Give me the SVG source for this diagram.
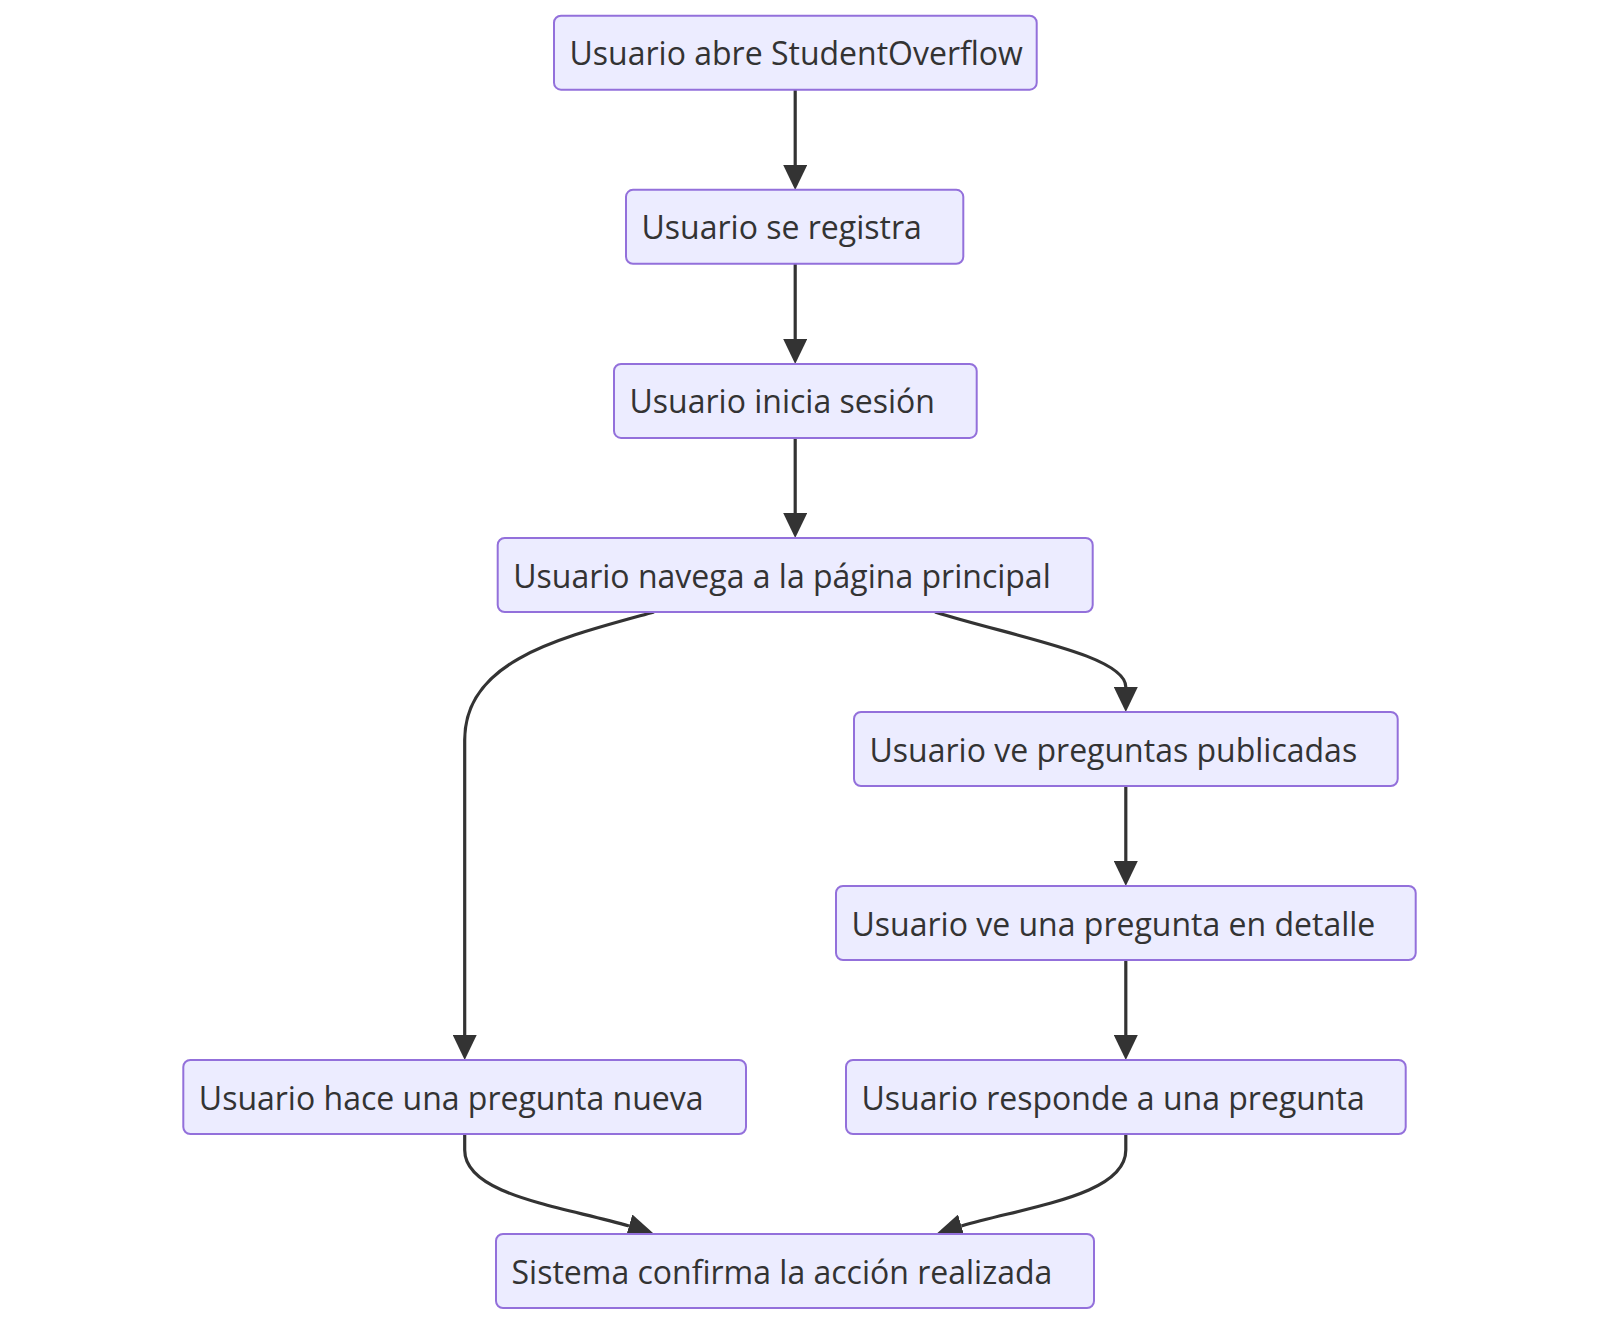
<svg xmlns="http://www.w3.org/2000/svg" width="1600" height="1324" viewBox="0 0 1600 1324">
<style>
.node rect{fill:#ECECFF;stroke:#9370DB;stroke-width:2;}
.node text{font-family:"Open Sans","Noto Sans","DejaVu Sans",sans-serif;font-size:32px;fill:#333333;}
.edge{fill:none;stroke:#333333;stroke-width:3.2;}
</style>
<defs>
<marker id="arrow" markerUnits="userSpaceOnUse" viewBox="0 0 25 24" refX="0" refY="12" markerWidth="25" markerHeight="24" orient="auto">
<path d="M0,0 L25,12 L0,24 z" fill="#333333"/>
</marker>
</defs>
<rect width="1600" height="1324" fill="#ffffff"/>
<g id="connectors">
<path class="edge" d="M795.2,90 L795.2,165" marker-end="url(#arrow)"/>
<path class="edge" d="M795.2,264 L795.2,339" marker-end="url(#arrow)"/>
<path class="edge" d="M795.2,438 L795.2,513" marker-end="url(#arrow)"/>
<path class="edge" d="M654,612 C560,638 464.7,660 464.7,740 L464.7,1035" marker-end="url(#arrow)"/>
<path class="edge" d="M935,612 C1010,636 1125.8,655 1125.8,687" marker-end="url(#arrow)"/>
<path class="edge" d="M1125.8,786 L1125.8,861" marker-end="url(#arrow)"/>
<path class="edge" d="M1125.8,960 L1125.8,1035" marker-end="url(#arrow)"/>
<path class="edge" d="M464.7,1134 L464.7,1150 C464.7,1195 560,1206 629,1226" marker-end="url(#arrow)"/>
<path class="edge" d="M1125.8,1134 L1125.8,1150 C1125.8,1195 1030.4,1206 961.4,1226" marker-end="url(#arrow)"/>
</g>
<g id="n1" class="node"><rect x="554" y="15.7" width="482.7" height="74" rx="7"/><text x="569.5" y="65.2">Usuario abre StudentOverflow</text></g>
<g id="n2" class="node"><rect x="626" y="189.8" width="337.3" height="74" rx="7"/><text x="641.5" y="239.3">Usuario se registra</text></g>
<g id="n3" class="node"><rect x="614" y="363.9" width="362.7" height="74" rx="7"/><text x="629.5" y="413.4">Usuario inicia sesión</text></g>
<g id="n4" class="node"><rect x="497.7" y="538" width="595" height="74" rx="7"/><text x="513.2" y="587.5">Usuario navega a la página principal</text></g>
<g id="n5" class="node"><rect x="854" y="712" width="543.7" height="74" rx="7"/><text x="869.5" y="761.5">Usuario ve preguntas publicadas</text></g>
<g id="n6" class="node"><rect x="836" y="886" width="579.7" height="74" rx="7"/><text x="851.5" y="935.5">Usuario ve una pregunta en detalle</text></g>
<g id="n7" class="node"><rect x="183.3" y="1060" width="562.7" height="74" rx="7"/><text x="198.8" y="1109.5">Usuario hace una pregunta nueva</text></g>
<g id="n8" class="node"><rect x="846" y="1060" width="559.7" height="74" rx="7"/><text x="861.5" y="1109.5">Usuario responde a una pregunta</text></g>
<g id="n9" class="node"><rect x="496" y="1234" width="598" height="74" rx="7"/><text x="511.5" y="1283.5">Sistema confirma la acción realizada</text></g>
</svg>
